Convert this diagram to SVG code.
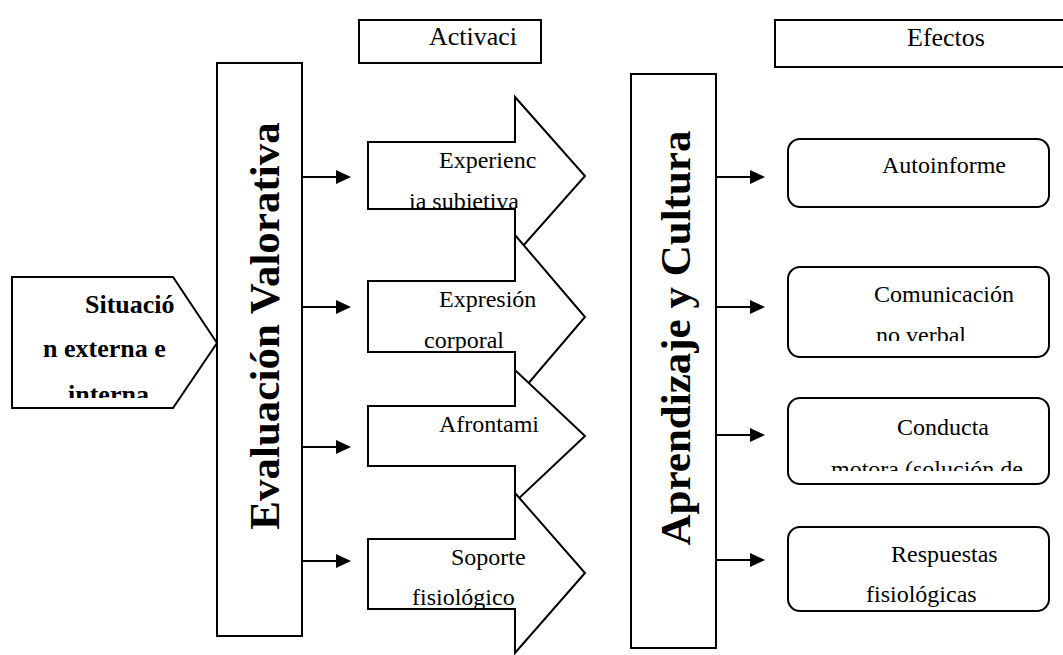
<svg xmlns="http://www.w3.org/2000/svg" width="1063" height="655" viewBox="0 0 1063 655">
<style>
.box{fill:#fff;stroke:#000;stroke-width:2}
.t{font-family:"Liberation Serif","Times New Roman",serif;font-size:24px;fill:#000}
.h{font-family:"Liberation Serif","Times New Roman",serif;font-size:26px;fill:#000}
.b{font-family:"Liberation Serif","Times New Roman",serif;font-size:26px;font-weight:bold;fill:#000}
.v{font-family:"Liberation Serif","Times New Roman",serif;font-size:43px;font-weight:bold;fill:#000}
.c{stroke:#000;stroke-width:2;fill:none}
</style>
<defs>
<marker id="ah" markerUnits="userSpaceOnUse" markerWidth="16" markerHeight="14" refX="0" refY="7" orient="auto">
<path d="M0,0 L15,7 L0,14 Z" fill="#000"/>
</marker>
<clipPath id="cSit"><rect x="14" y="279" width="200" height="119"/></clipPath>
<clipPath id="cA1"><rect x="369" y="143" width="220" height="65"/></clipPath>
<clipPath id="cA2"><rect x="369" y="282" width="220" height="69"/></clipPath>
<clipPath id="cA3"><rect x="369" y="407" width="220" height="58"/></clipPath>
<clipPath id="cA4"><rect x="369" y="540" width="220" height="68"/></clipPath>
<clipPath id="cCom"><rect x="789" y="268" width="258" height="73"/></clipPath>
<clipPath id="cCon"><rect x="789" y="399" width="258" height="72"/></clipPath>
</defs>

<g id="activacion">
<rect class="box" x="359" y="20" width="182" height="43"/>
<text class="h" x="429" y="45">Activaci</text>
</g>

<g id="efectos">
<rect class="box" x="775" y="20" width="300" height="47"/>
<text class="h" x="907" y="46">Efectos</text>
</g>

<g id="situacion">
<path class="box" d="M12,277 H173 L217,343 L173,408 H12 Z"/>
<g clip-path="url(#cSit)">
<text class="b" x="85" y="313">Situació</text>
<text class="b" x="43" y="357">n externa e</text>
<text class="b" x="68" y="403">interna</text>
</g>
</g>

<g id="evaluacion">
<rect class="box" x="217" y="63" width="85" height="573"/>
<text class="v" transform="translate(279,326) rotate(-90)" text-anchor="middle">Evaluación Valorativa</text>
</g>

<g id="experiencia">
<path class="box" d="M368,142 H515 V97 L585,176 L515,255 V209 H368 Z"/>
<g clip-path="url(#cA1)">
<text class="t" x="439" y="168">Experienc</text>
<text class="t" x="409" y="209">ia subjetiva</text>
</g>
</g>

<g id="expresion">
<path class="box" d="M368,281 H515 V235 L585,317 L515,399 V352 H368 Z"/>
<g clip-path="url(#cA2)">
<text class="t" x="439" y="307">Expresión</text>
<text class="t" x="424" y="348">corporal</text>
</g>
</g>

<g id="afrontamiento">
<path class="box" d="M368,406 H515 V370 L585,436 L515,502 V466 H368 Z"/>
<g clip-path="url(#cA3)">
<text class="t" x="439" y="432">Afrontami</text>
</g>
</g>

<g id="soporte">
<path class="box" d="M368,539 H515 V493 L585,573 L515,653 V609 H368 Z"/>
<g clip-path="url(#cA4)">
<text class="t" x="451" y="565">Soporte</text>
<text class="t" x="412" y="605">fisiológico</text>
</g>
</g>

<g id="aprendizaje">
<rect class="box" x="631" y="74" width="85" height="574"/>
<text class="v" transform="translate(690,338) rotate(-90)" text-anchor="middle">Aprendizaje y Cultura</text>
</g>

<g id="autoinforme">
<rect class="box" x="788" y="139" width="261" height="68" rx="12"/>
<text class="t" x="882" y="173">Autoinforme</text>
</g>

<g id="comunicacion">
<rect class="box" x="788" y="267" width="261" height="90" rx="12"/>
<g clip-path="url(#cCom)">
<text class="t" x="874" y="302">Comunicación</text>
<text class="t" x="876" y="343">no verbal</text>
</g>
</g>

<g id="conducta">
<rect class="box" x="788" y="398" width="261" height="86" rx="12"/>
<g clip-path="url(#cCon)">
<text class="t" x="897" y="435">Conducta</text>
<text class="t" x="831" y="477">motora (solución de</text>
</g>
</g>

<g id="respuestas">
<rect class="box" x="788" y="527" width="261" height="84" rx="12"/>
<text class="t" x="891" y="562">Respuestas</text>
<text class="t" x="866" y="602">fisiológicas</text>
</g>

<g id="connectors">
<line class="c" x1="302" y1="177" x2="336" y2="177" marker-end="url(#ah)"/>
<line class="c" x1="302" y1="307" x2="336" y2="307" marker-end="url(#ah)"/>
<line class="c" x1="302" y1="447" x2="336" y2="447" marker-end="url(#ah)"/>
<line class="c" x1="302" y1="561" x2="336" y2="561" marker-end="url(#ah)"/>
<line class="c" x1="716" y1="177" x2="750" y2="177" marker-end="url(#ah)"/>
<line class="c" x1="716" y1="307" x2="750" y2="307" marker-end="url(#ah)"/>
<line class="c" x1="716" y1="435" x2="750" y2="435" marker-end="url(#ah)"/>
<line class="c" x1="716" y1="560" x2="750" y2="560" marker-end="url(#ah)"/>
</g>
</svg>
